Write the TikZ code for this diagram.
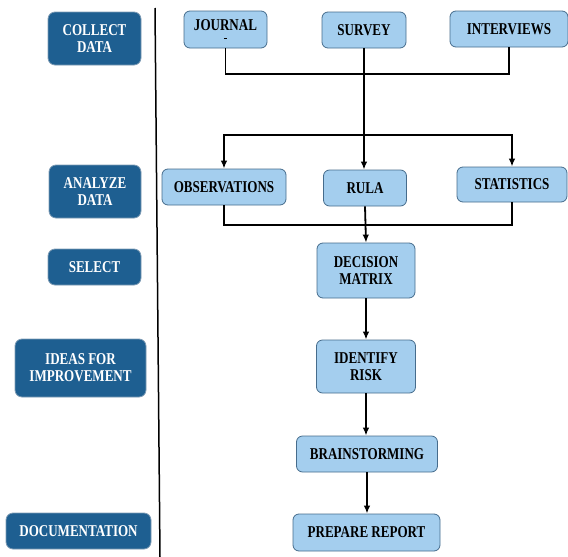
\documentclass[tikz,border=0pt]{standalone}
\usepackage{fontspec}
\setmainfont{Liberation Serif}[FakeStretch=0.79]
\usepackage{tikz}
\usetikzlibrary{arrows.meta}
\definecolor{phaseblue}{RGB}{30,95,145}
\definecolor{phaseedge}{RGB}{125,155,180}
\definecolor{taskblue}{RGB}{164,206,238}
\definecolor{taskedge}{RGB}{70,108,140}

\begin{document}
\begin{tikzpicture}[x=1pt,y=-1pt,
    phase/.style={draw=phaseedge,fill=phaseblue,text=white,rounded corners=7pt,line width=0.8pt,
        align=center,inner sep=0pt,font=\bfseries\fontsize{16.5}{17}\selectfont},
    task/.style={draw=taskedge,fill=taskblue,text=black,rounded corners=6pt,line width=0.8pt,
        align=center,inner sep=0pt,font=\bfseries\fontsize{16.5}{17}\selectfont},
    flow/.style={line width=1.8pt},
    arrow/.style={flow,-{Latex[length=8pt,width=6.5pt]}}]
    \useasboundingbox (0,0) rectangle (568,557);

    % Phases on the left
    \node[phase,minimum width=93pt,minimum height=53pt] (collect) at (94.5,38.5) {COLLECT\\DATA};
    \node[phase,minimum width=92pt,minimum height=53pt] (analyze) at (95,191.5) {ANALYZE\\DATA};
    \node[phase,minimum width=93pt,minimum height=36pt] (select) at (94.5,267) {SELECT};
    \node[phase,minimum width=131pt,minimum height=58pt] (ideas) at (80.5,368) {IDEAS FOR\\IMPROVEMENT};
    \node[phase,minimum width=145pt,minimum height=36pt] (docu) at (78.5,531) {DOCUMENTATION};

    % Divider
    \draw[line width=1.5pt] (155,8) -- (160,557);

    % Data sources
    \node[task,minimum width=83pt,minimum height=37pt] (journal) at (225.5,29.5) {JOURNAL\\[-9pt]\rule{3.5pt}{1pt}};
    \node[task,minimum width=84pt,minimum height=36pt] (survey) at (364,30) {SURVEY};
    \node[task,minimum width=118pt,minimum height=36pt] (interviews) at (509,29) {INTERVIEWS};

    % Analysis
    \node[task,minimum width=124pt,minimum height=36pt] (obs) at (224,187) {OBSERVATIONS};
    \node[task,minimum width=83pt,minimum height=36pt] (rula) at (365,188) {RULA};
    \node[task,minimum width=110pt,minimum height=35pt] (stats) at (512,184.5) {STATISTICS};

    % Main flow
    \node[task,minimum width=98pt,minimum height=55pt] (decision) at (366,270.5) {DECISION\\MATRIX};
    \node[task,minimum width=99pt,minimum height=53pt] (risk) at (366,366.5) {IDENTIFY\\RISK};
    \node[task,minimum width=141pt,minimum height=36pt] (brain) at (367,454) {BRAINSTORMING};
    \node[task,minimum width=147pt,minimum height=37pt] (report) at (366.5,532.5) {PREPARE REPORT};

    % Connectors
    \coordinate (bus1) at (365,74);
    \coordinate (bus2) at (365,135);
    \coordinate (bus3) at (365,225);
    \draw[flow] (journal.south) |- (bus1) -| (interviews.south);
    \draw[arrow] (survey.south) -- (survey.south |- rula.north);
    \draw[arrow] (bus2) -| (obs.north);
    \draw[arrow] (bus2) -| (stats.north);
    \draw[flow] (obs.south) |- (bus3) -| (stats.south);
    \draw[arrow] (rula.south) -- (decision.north);
    \draw[arrow] (decision) -- (risk);
    \draw[arrow] (risk) -- (risk |- brain.north);
    \draw[arrow] (brain) -- (brain |- report.north);
\end{tikzpicture}
\end{document}
